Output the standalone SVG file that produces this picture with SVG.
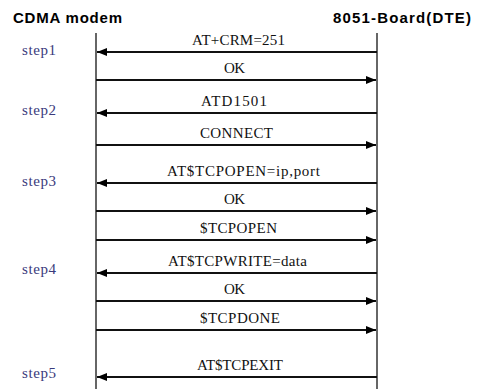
<svg xmlns="http://www.w3.org/2000/svg" width="479" height="389" viewBox="0 0 479 389">
<style>
.hdr{font-family:"Liberation Sans",Arial,sans-serif;font-weight:bold;font-size:15px;fill:#000}
.lbl{font-family:"Times New Roman",Times,"Liberation Serif","Noto Serif","DejaVu Serif",Georgia,serif;font-size:15px;fill:#111}
.step{font-family:"Times New Roman",Times,"Liberation Serif","Noto Serif","DejaVu Serif",Georgia,serif;font-size:15px;fill:#3a3a7c}
.life{stroke:#333;stroke-width:1.5}
.msg{stroke:#111;stroke-width:2;fill:none}
</style>
<defs>
<marker id="ah" viewBox="0 0 10 8" refX="10" refY="4" markerWidth="10" markerHeight="8" markerUnits="userSpaceOnUse" orient="auto">
<path d="M0,0 L10,4 L0,8 Z" fill="#000"/>
</marker>
</defs>
<rect width="479" height="389" fill="#fff"/>
<g id="cdma">
<text class="hdr" x="13" y="23" textLength="109" lengthAdjust="spacing">CDMA modem</text>
<line class="life" x1="96" y1="33" x2="96" y2="389"/>
</g>
<g id="board">
<text class="hdr" x="333" y="23" textLength="138" lengthAdjust="spacing">8051-Board(DTE)</text>
<line class="life" x1="377" y1="33" x2="377" y2="389"/>
</g>
<g id="steps">
<text class="step" x="22" y="55" textLength="34">step1</text>
<text class="step" x="22" y="115" textLength="34">step2</text>
<text class="step" x="22" y="186" textLength="34">step3</text>
<text class="step" x="22" y="274" textLength="34">step4</text>
<text class="step" x="22" y="378" textLength="34">step5</text>
</g>
<g id="connectors">
<line class="msg" x1="377" y1="52" x2="97" y2="52" marker-end="url(#ah)"/>
<line class="msg" x1="96" y1="80" x2="376" y2="80" marker-end="url(#ah)"/>
<line class="msg" x1="377" y1="113" x2="97" y2="113" marker-end="url(#ah)"/>
<line class="msg" x1="96" y1="145" x2="376" y2="145" marker-end="url(#ah)"/>
<line class="msg" x1="377" y1="183" x2="97" y2="183" marker-end="url(#ah)"/>
<line class="msg" x1="96" y1="211" x2="376" y2="211" marker-end="url(#ah)"/>
<line class="msg" x1="96" y1="240" x2="376" y2="240" marker-end="url(#ah)"/>
<line class="msg" x1="377" y1="273" x2="97" y2="273" marker-end="url(#ah)"/>
<line class="msg" x1="96" y1="301" x2="376" y2="301" marker-end="url(#ah)"/>
<line class="msg" x1="96" y1="330" x2="376" y2="330" marker-end="url(#ah)"/>
<line class="msg" x1="377" y1="377" x2="97" y2="377" marker-end="url(#ah)"/>
</g>
<g id="labels">
<text class="lbl" x="192" y="45" textLength="93">AT+CRM=251</text>
<text class="lbl" x="224" y="73" textLength="21">OK</text>
<text class="lbl" x="201" y="106" textLength="66">ATD1501</text>
<text class="lbl" x="200" y="138" textLength="73">CONNECT</text>
<text class="lbl" x="167" y="176" textLength="153">AT$TCPOPEN=ip,port</text>
<text class="lbl" x="224" y="204" textLength="21">OK</text>
<text class="lbl" x="200" y="233" textLength="77">$TCPOPEN</text>
<text class="lbl" x="168" y="266" textLength="139">AT$TCPWRITE=data</text>
<text class="lbl" x="224" y="294" textLength="21">OK</text>
<text class="lbl" x="200" y="323" textLength="80">$TCPDONE</text>
<text class="lbl" x="197" y="370" textLength="86">AT$TCPEXIT</text>
</g>
</svg>
